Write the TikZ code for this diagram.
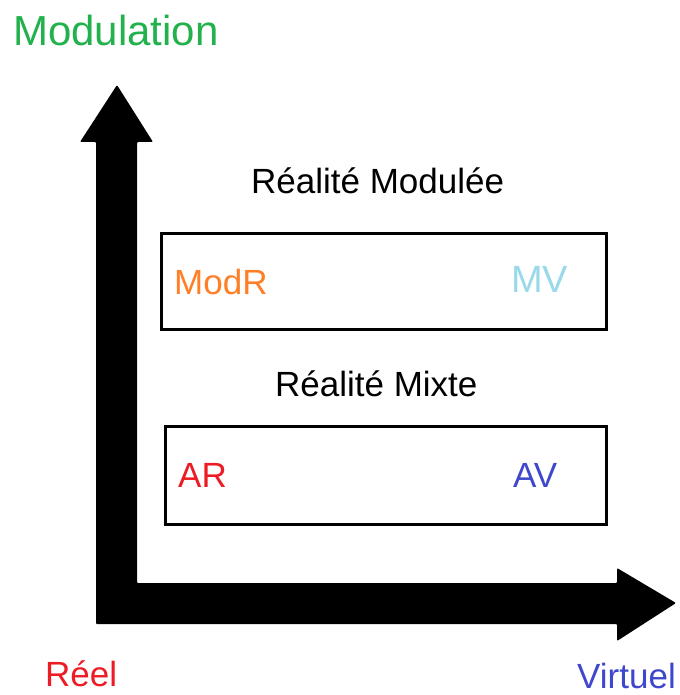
\documentclass[tikz,border=0pt]{standalone}
\usepackage{fontspec}
\setmainfont{Liberation Sans}
\definecolor{pgreen}{RGB}{34,177,76}
\definecolor{porange}{RGB}{255,127,39}
\definecolor{plblue}{RGB}{153,217,234}
\definecolor{pred}{RGB}{237,28,36}
\definecolor{pblue}{RGB}{63,72,204}
\tikzset{
  lbl/.style={anchor=base west, inner sep=0pt, font=\fontsize{35}{40}\selectfont},
  lblb/.style={anchor=base west, inner sep=0pt, font=\fontsize{38}{42}\selectfont},
  bigl/.style={anchor=base west, inner sep=0pt, font=\fontsize{42}{48}\selectfont},
  frame/.style={draw=black, line width=3pt, inner sep=0pt},
}
\begin{document}
\begin{tikzpicture}[x=1pt,y=-1pt]
\useasboundingbox (0,0) rectangle (679,695);
% axes
\fill[black, rounded corners=1pt] (96,624) -- (96,142) -- (80,142) -- (117,85) -- (153,142) -- (137,142) -- (137,583) -- (617,583) -- (617,568) -- (676,603) -- (617,641) -- (617,624) -- cycle;
% boxes
\node[frame, minimum width=445pt, minimum height=96pt] (boxtop) at (383.5,281) {};
\node[frame, minimum width=441pt, minimum height=98pt] (boxbot) at (385.5,475) {};
% labels
\node[bigl, text=pgreen] (modulation) at (13,46) {Modulation};
\node[lbl] (rmod) at (251,193) {Réalité Modulée};
\node[lbl] (rmix) at (275,396) {Réalité Mixte};
\node[lbl, text=porange] (modr) at (174,294) {ModR};
\node[lblb, text=plblue] (mv) at (511,292) {MV};
\node[lbl, text=pred] (ar) at (178,487) {AR};
\node[lbl, text=pblue] (av) at (513,487) {AV};
\node[lbl, text=pred] (reel) at (45,686) {Réel};
\node[lbl, text=pblue] (virtuel) at (577,688) {Virtuel};
\end{tikzpicture}
\end{document}
